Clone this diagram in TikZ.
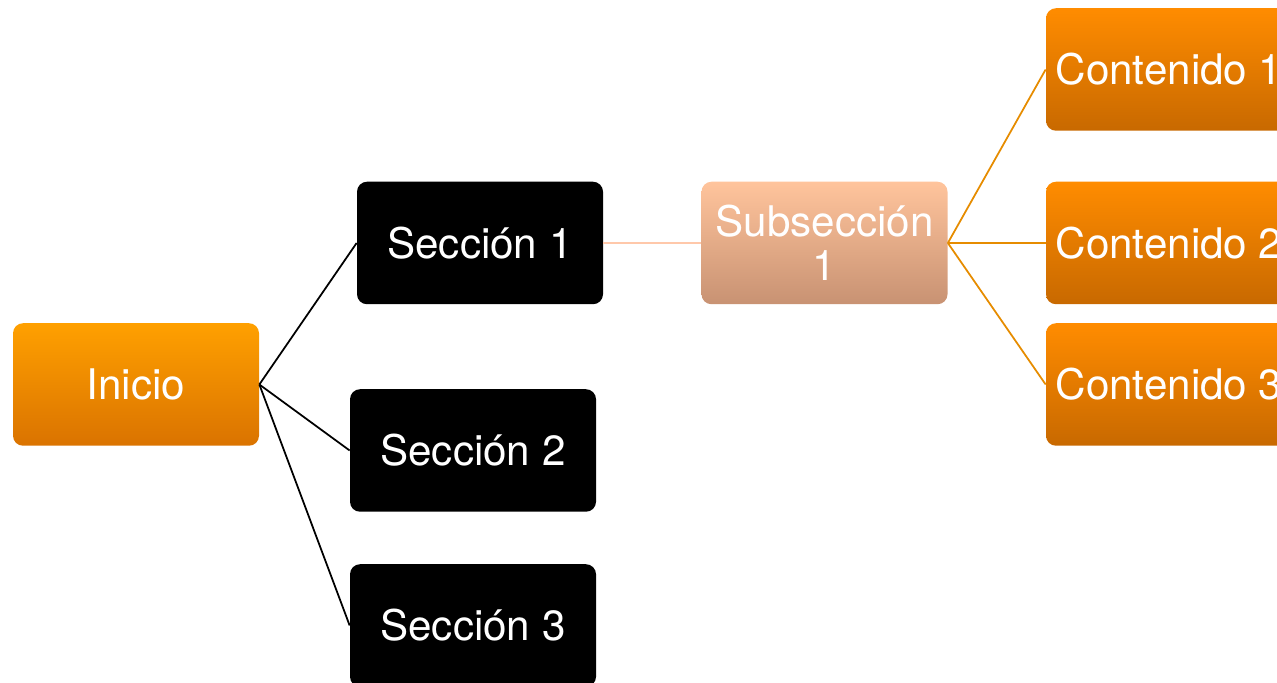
\documentclass[tikz,border=0pt]{standalone}
\usepackage{fontspec}
\setmainfont{TeX Gyre Heros}
\usepackage{tikz}
\usetikzlibrary{positioning}

\definecolor{inicioTop}{RGB}{255,160,0}
\definecolor{inicioBot}{RGB}{218,115,0}
\definecolor{contTop}{RGB}{255,140,0}
\definecolor{contBot}{RGB}{200,105,0}
\definecolor{subTop}{RGB}{255,196,156}
\definecolor{subBot}{RGB}{200,146,115}
\definecolor{subLine}{RGB}{255,200,170}
\definecolor{contLine}{RGB}{230,140,0}

\begin{document}
\begin{tikzpicture}[
    caja/.style={rounded corners=0.2cm, minimum width=4.92cm, minimum height=2.45cm,
      text=white, align=center, font=\fontsize{24}{26.5}\selectfont},
    inicio/.style={caja, shading=axis, top color=inicioTop, bottom color=inicioBot},
    seccion/.style={caja, fill=black},
    subsec/.style={caja, shading=axis, top color=subTop, bottom color=subBot},
    contenido/.style={caja, shading=axis, top color=contTop, bottom color=contBot}
  ]
  \useasboundingbox (0, 0) rectangle (25.54, 13.66);
  % nodos
  \node[inicio] (ini) at (2.72, 5.97) {Inicio};
  \node[seccion] (s1) at (9.60, 8.80) {Sección 1};
  \node[seccion] (s2) at (9.46, 4.65) {Sección 2};
  \node[seccion] (s3) at (9.46, 1.15) {Sección 3};
  \node[subsec] (sub1) at (16.49, 8.80) {Subsección\\[-0.06cm]1};
  \node[contenido] (c1) at (23.38, 12.27) {Contenido 1};
  \node[contenido] (c2) at (23.38, 8.80) {Contenido 2};
  \node[contenido] (c3) at (23.38, 5.97) {Contenido 3};
  % conectores
  \draw[line width=1pt] (ini.east) -- (s1.west);
  \draw[line width=1pt] (ini.east) -- (s2.west);
  \draw[line width=1pt] (ini.east) -- (s3.west);
  \draw[line width=1pt, subLine] (s1.east) -- (sub1.west);
  \draw[line width=1pt, contLine] (sub1.east) -- (c1.west);
  \draw[line width=1pt, contLine] (sub1.east) -- (c2.west);
  \draw[line width=1pt, contLine] (sub1.east) -- (c3.west);
\end{tikzpicture}
\end{document}
